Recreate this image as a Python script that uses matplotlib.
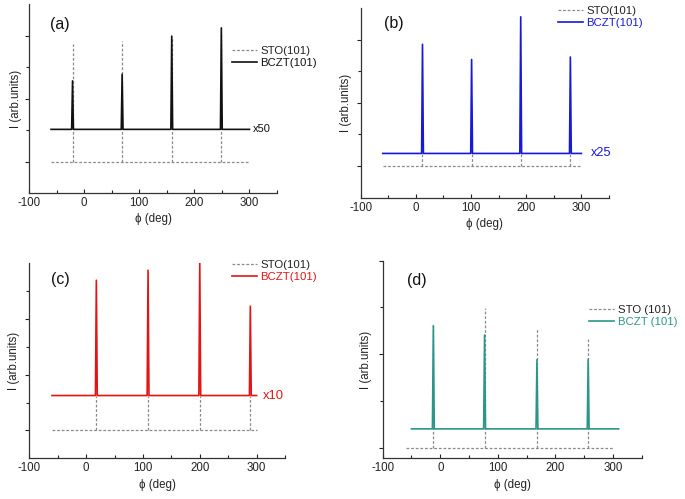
import numpy as np
import matplotlib
matplotlib.use('Agg')
import matplotlib.pyplot as plt
from matplotlib.ticker import FixedLocator, NullFormatter

plt.rcParams['font.family'] = ['Liberation Sans', 'DejaVu Sans']
plt.rcParams['axes.unicode_minus'] = False

# ---- data (phi in deg, intensity in arb. units) ----
# panel (a)  x50
a_pos = [-21, 69, 159, 249]
a_bczt_base = 2.02
a_bczt_h = [3.56, 3.77, 4.98, 5.24]
a_sto_base = 1.0
a_sto_h = [4.72, 4.84, 4.9, 5.1]

# panel (b)  x25
b_pos = [12, 101, 190, 280]
b_bczt_base = 1.4
b_bczt_h = [4.85, 4.37, 5.72, 4.45]
b_sto_base = 1.0
b_sto_h = [1.4, 1.4, 1.4, 1.4]

# panel (c)  x10
c_pos = [18, 109, 200, 289]
c_bczt_base = 2.25
c_bczt_h = [6.38, 6.74, 7.0, 5.45]
c_sto_base = 1.0
c_sto_h = [2.25, 2.25, 2.25, 2.25]

# panel (d)
d_pos = [-12, 77, 168, 257]
d_bczt_base = 0.4
d_bczt_h = [2.61, 2.41, 1.88, 1.89]
d_sto_base = 0.0
d_sto_h = [2.6, 2.99, 2.54, 2.33]

W, H = 685, 499
fig = plt.figure(figsize=(W / 100, H / 100), dpi=100)


def px_axes(left, right, top, bottom):
    return fig.add_axes([left / W, (H - bottom) / H, (right - left) / W, (bottom - top) / H])


def peak_line(pos, heights, base, x0, x1, hw=1.6):
    xs, ys = [x0], [base]
    for p, h in zip(pos, heights):
        xs += [p - hw, p, p + hw]
        ys += [base, h, base]
    xs.append(x1)
    ys.append(base)
    return xs, ys


def panel(ax, pos, bczt_h, bczt_base, sto_h, sto_base, color, ylim, ymaj, ymin,
          letter, letter_xy, mult, mult_x, mult_size, leg_xy, sto_lbl, bczt_lbl,
          bczt_range=(-60, 300), sto_range=(-60, 300), ylabelpad=6):
    dash = dict(color='#8a8a8a', lw=0.9, ls=(0, (2.2, 1.5)))
    ax.hlines(sto_base, sto_range[0], sto_range[1], label=sto_lbl, **dash)
    ax.vlines(pos, sto_base, sto_h, **dash)
    xs, ys = peak_line(pos, bczt_h, bczt_base, bczt_range[0], bczt_range[1])
    ax.plot(xs, ys, color=color, lw=1.2, label=bczt_lbl)

    ax.set_xlim(-100, 350)
    ax.set_ylim(*ylim)
    ax.xaxis.set_major_locator(FixedLocator([-100, 0, 100, 200, 300]))
    ax.xaxis.set_minor_locator(FixedLocator([-50, 50, 150, 250, 350]))
    ax.yaxis.set_major_locator(FixedLocator(ymaj))
    ax.yaxis.set_minor_locator(FixedLocator(ymin))
    ax.yaxis.set_major_formatter(NullFormatter())
    for s in ['top', 'right']:
        ax.spines[s].set_visible(False)
    for s in ['left', 'bottom']:
        ax.spines[s].set_color('#333333')
        ax.spines[s].set_linewidth(0.9)
    ax.tick_params(axis='x', which='major', direction='in', length=3, width=0.8,
                   labelsize=8.3, pad=3, colors='#222222')
    ax.tick_params(axis='x', which='minor', direction='in', length=2, width=0.8, colors='#222222')
    ax.tick_params(axis='y', which='major', direction='out', length=3, width=0.8, colors='#222222')
    ax.tick_params(axis='y', which='minor', direction='out', length=2, width=0.8, colors='#222222')
    ax.set_xlabel('ϕ (deg)', fontsize=8.3, labelpad=3, color='#222222')
    ax.set_ylabel('I (arb.units)', fontsize=8.3, labelpad=ylabelpad, color='#222222')

    ax.text(letter_xy[0], letter_xy[1], letter, transform=ax.transAxes, fontsize=11.5,
            ha='left', va='center', color='#111111')
    if mult:
        ax.text(mult_x, bczt_base, mult, color=color, fontsize=mult_size,
                ha='left', va='center')
    leg = ax.legend(loc='center left', bbox_to_anchor=leg_xy, frameon=False,
                    fontsize=8.2, handlelength=2.2, handletextpad=0.3,
                    labelspacing=0.15, borderpad=0, borderaxespad=0,
                    labelcolor=['#222222', color])
    return leg


ax_a = px_axes(29, 277, 4, 193)
panel(ax_a, a_pos, a_bczt_h, a_bczt_base, a_sto_h, a_sto_base, '#111111',
      (0, 6), [1, 3, 5], [2, 4], '(a)', (0.085, 0.894), 'x50', 307, 8,
      (0.819, 0.72), 'STO(101)', 'BCZT(101)', ylabelpad=-1.5)

ax_b = px_axes(360.7, 609, 8, 197.7)
panel(ax_b, b_pos, b_bczt_h, b_bczt_base, b_sto_h, b_sto_base, '#1818d8',
      (0, 6), [1, 3, 5], [2, 4], '(b)', (0.094, 0.916), 'x25', 318, 9.2,
      (0.795, 0.954), 'STO(101)', 'BCZT(101)', ylabelpad=-0.3)

ax_c = px_axes(29.3, 285, 263, 458.3)
panel(ax_c, c_pos, c_bczt_h, c_bczt_base, c_sto_h, c_sto_base, '#e41414',
      (0, 7), [1, 3, 5], [2, 4, 6], '(c)', (0.085, 0.914), 'x10', 311, 9.4,
      (0.793, 0.96), 'STO(101)', 'BCZT(101)', ylabelpad=0)

ax_d = px_axes(382.7, 641.7, 260.7, 458.3)
panel(ax_d, d_pos, d_bczt_h, d_bczt_base, d_sto_h, d_sto_base, '#2a968a',
      (-0.23, 4.0), [0, 2, 4], [1, 3], '(d)', (0.094, 0.902), None, 0, 0,
      (0.797, 0.72), 'STO (101)', 'BCZT (101)',
      bczt_range=(-50, 310), sto_range=(-60, 300), ylabelpad=1.2)

fig.savefig('out.png', dpi=100)
